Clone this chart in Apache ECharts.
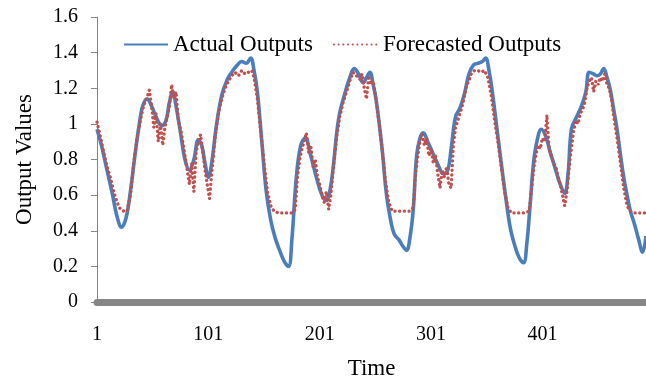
<!DOCTYPE html>
<html>
<head>
<meta charset="utf-8">
<script src="https://cdn.jsdelivr.net/npm/echarts@6/dist/echarts.min.js"></script>
<style>
  html, body { margin: 0; padding: 0; background: #fff; }
  #main { width: 646px; height: 385px; }
</style>
</head>
<body>
<div id="main"></div>
<script>
// ==============================
// data
// ==============================

const xTicks = [1, 101, 201, 301, 401];

const actualTime = [
    1, 5, 10, 15, 19, 23, 27, 31, 35, 39, 42, 46, 50, 54, 59, 63, 66, 69, 72, 76,
    80, 84, 88, 92, 95, 98, 101, 104, 108, 113, 118, 122, 127, 131, 135, 139, 142, 145, 149, 153,
    157, 161, 165, 169, 173, 176, 180, 184, 188, 193, 198, 203, 207, 210, 213, 218, 224, 228, 232, 236,
    240, 243, 246, 249, 252, 257, 261, 265, 268, 272, 276, 279, 282, 285, 288, 291, 294, 298, 303, 308,
    312, 316, 319, 323, 327, 331, 335, 339, 343, 347, 350, 353, 356, 360, 364, 368, 372, 376, 380, 384,
    387, 390, 393, 396, 400, 404, 408, 412, 417, 421, 424, 427, 431, 436, 440, 443, 447, 450, 453, 456,
    459, 462, 465, 468, 471, 474, 477, 480, 484, 487, 491, 494
];
const actualValues = [
    0.97, 0.88, 0.74, 0.60, 0.48, 0.42, 0.47, 0.62, 0.82, 1.00, 1.10, 1.14, 1.10, 1.04, 0.99, 1.02, 1.12, 1.18, 1.10, 0.95,
    0.80, 0.74, 0.80, 0.91, 0.88, 0.78, 0.70, 0.78, 0.98, 1.16, 1.25, 1.29, 1.33, 1.35, 1.34, 1.37, 1.30, 1.18, 0.90, 0.62,
    0.46, 0.36, 0.29, 0.23, 0.20, 0.35, 0.70, 0.88, 0.92, 0.82, 0.70, 0.60, 0.57, 0.62, 0.75, 1.03, 1.18, 1.26, 1.31, 1.28,
    1.23, 1.26, 1.29, 1.22, 1.12, 0.86, 0.60, 0.45, 0.38, 0.35, 0.31, 0.29, 0.36, 0.52, 0.82, 0.92, 0.95, 0.90, 0.83, 0.76,
    0.72, 0.74, 0.86, 1.04, 1.09, 1.17, 1.28, 1.33, 1.34, 1.35, 1.37, 1.30, 1.18, 0.98, 0.78, 0.59, 0.42, 0.32, 0.25, 0.22,
    0.33, 0.55, 0.78, 0.90, 0.97, 0.93, 0.84, 0.76, 0.66, 0.61, 0.72, 0.97, 1.03, 1.10, 1.18, 1.29, 1.28, 1.27, 1.28, 1.31,
    1.26, 1.19, 1.08, 0.97, 0.83, 0.70, 0.60, 0.51, 0.43, 0.36, 0.28, 0.37
];

const forecastTime = [
    1, 4, 7, 10, 13, 16, 19, 22, 25, 28, 31, 34, 37, 40, 42, 44, 46, 48, 50, 52,
    54, 56, 58, 60, 62, 64, 66, 68, 70, 72, 74, 77, 80, 82, 84, 86, 88, 90, 92, 94,
    96, 98, 100, 102, 104, 107, 110, 113, 116, 119, 122, 125, 128, 131, 134, 137, 140, 142, 145, 148,
    151, 154, 157, 160, 164, 168, 172, 176, 179, 181, 183, 185, 187, 189, 191, 193, 195, 197, 199, 201,
    203, 205, 207, 209, 211, 213, 216, 219, 222, 225, 228, 231, 234, 237, 239, 241, 243, 245, 247, 249,
    251, 254, 257, 260, 263, 266, 270, 274, 278, 282, 285, 287, 289, 291, 293, 295, 297, 299, 301, 303,
    305, 307, 309, 311, 313, 315, 317, 319, 321, 323, 325, 327, 329, 331, 333, 335, 337, 340, 343, 346,
    349, 352, 355, 358, 361, 364, 367, 370, 373, 377, 381, 385, 389, 391, 393, 395, 397, 399, 401, 403,
    405, 407, 409, 411, 413, 415, 417, 419, 421, 423, 425, 427, 429, 431, 433, 435, 437, 439, 441, 443,
    445, 447, 449, 451, 453, 455, 457, 459, 461, 463, 465, 468, 471, 474, 477, 480, 484, 488, 492, 494
];
const forecastValues = [
    1.01, 0.93, 0.84, 0.76, 0.70, 0.62, 0.56, 0.52, 0.51, 0.51, 0.60, 0.78, 0.92, 1.02, 1.08, 1.12, 1.15, 1.19, 1.10, 0.98,
    1.06, 0.90, 1.00, 0.88, 0.98, 1.04, 1.10, 1.22, 1.14, 1.18, 1.02, 0.94, 0.82, 0.74, 0.66, 0.78, 0.62, 0.84, 0.90, 0.94,
    0.84, 0.74, 0.66, 0.58, 0.72, 0.92, 1.06, 1.14, 1.20, 1.24, 1.27, 1.29, 1.27, 1.30, 1.28, 1.29, 1.30, 1.26, 1.14, 0.96,
    0.78, 0.62, 0.54, 0.51, 0.50, 0.50, 0.50, 0.50, 0.52, 0.70, 0.80, 0.86, 0.90, 0.95, 0.84, 0.88, 0.76, 0.80, 0.70, 0.66,
    0.60, 0.56, 0.62, 0.52, 0.60, 0.74, 0.92, 1.04, 1.12, 1.18, 1.24, 1.29, 1.27, 1.25, 1.28, 1.20, 1.14, 1.27, 1.22, 1.24,
    1.16, 1.02, 0.86, 0.68, 0.56, 0.51, 0.51, 0.51, 0.51, 0.51, 0.53, 0.72, 0.82, 0.90, 0.94, 0.88, 0.92, 0.82, 0.86, 0.78,
    0.82, 0.72, 0.64, 0.74, 0.70, 0.76, 0.66, 0.64, 0.88, 0.98, 1.02, 1.06, 1.10, 1.16, 1.22, 1.24, 1.28, 1.30, 1.30, 1.29,
    1.30, 1.26, 1.16, 1.02, 0.90, 0.76, 0.62, 0.53, 0.50, 0.50, 0.50, 0.50, 0.51, 0.62, 0.74, 0.82, 0.88, 0.86, 0.92, 0.90,
    1.05, 0.86, 0.82, 0.78, 0.76, 0.70, 0.66, 0.60, 0.54, 0.62, 0.76, 0.86, 0.96, 1.02, 1.00, 1.06, 1.08, 1.12, 1.20, 1.24,
    1.26, 1.18, 1.24, 1.22, 1.26, 1.24, 1.28, 1.22, 1.20, 1.14, 1.04, 0.92, 0.78, 0.64, 0.54, 0.51, 0.50, 0.50, 0.50, 0.50
];


// ==============================
// chart
// ==============================

const myChart = echarts.init(document.getElementById('main'));

const font = '"Liberation Serif", "Times New Roman", serif';

myChart.setOption({

    animation: false,

    backgroundColor: '#ffffff',

    textStyle: {
        fontFamily: font
    },

    legend: {
        left: 118,
        top: 28,
        itemWidth: 44,
        itemHeight: 12,
        itemGap: 20,
        itemStyle: { opacity: 0 },
        textStyle: {
            fontFamily: font,
            fontSize: 23,
            color: '#000'
        },
        data: ['Actual Outputs', 'Forecasted Outputs']
    },

    grid: {
        left: 97,
        right: 0,
        top: 17,
        bottom: 79
    },

    xAxis: {
        type: 'value',
        min: 1,
        max: 494,
        name: 'Time',
        nameLocation: 'middle',
        nameGap: 52,
        nameTextStyle: {
            fontFamily: font,
            fontSize: 23,
            color: '#000'
        },
        offset: 3,
        axisLine: {
            lineStyle: { color: '#868686', width: 7 }
        },
        axisTick: { show: false },
        splitLine: { show: false },
        axisLabel: {
            customValues: xTicks,
            margin: 20,
            fontFamily: font,
            fontSize: 20,
            color: '#000'
        }
    },

    yAxis: {
        type: 'value',
        min: 0,
        max: 1.6,
        interval: 0.2,
        name: 'Output Values',
        nameLocation: 'middle',
        nameGap: 61,
        nameTextStyle: {
            fontFamily: font,
            fontSize: 23,
            color: '#000'
        },
        axisLine: {
            show: true,
            lineStyle: { color: '#868686', width: 1 }
        },
        axisTick: {
            show: true,
            length: 6,
            lineStyle: { color: '#868686' }
        },
        splitLine: { show: false },
        axisLabel: {
            margin: 19,
            fontFamily: font,
            fontSize: 20,
            color: '#000'
        }
    },

    series: [
        {
            name: 'Actual Outputs',
            type: 'line',
            smooth: 0.4,
            showSymbol: false,
            symbol: 'none',
            data: actualTime.map((t, i) => [t, actualValues[i]]),
            lineStyle: { color: '#4a7ebb', width: 3.6 },
            itemStyle: { color: '#4a7ebb' },
            z: 2
        },
        {
            name: 'Forecasted Outputs',
            type: 'line',
            showSymbol: false,
            symbol: 'none',
            data: forecastTime.map((t, i) => [t, forecastValues[i]]),
            lineStyle: { color: '#c0504d', width: 3.3, type: [0.1, 4.6], cap: 'round' },
            itemStyle: { color: '#c0504d' },
            z: 3
        }
    ]

});
</script>
</body>
</html>
